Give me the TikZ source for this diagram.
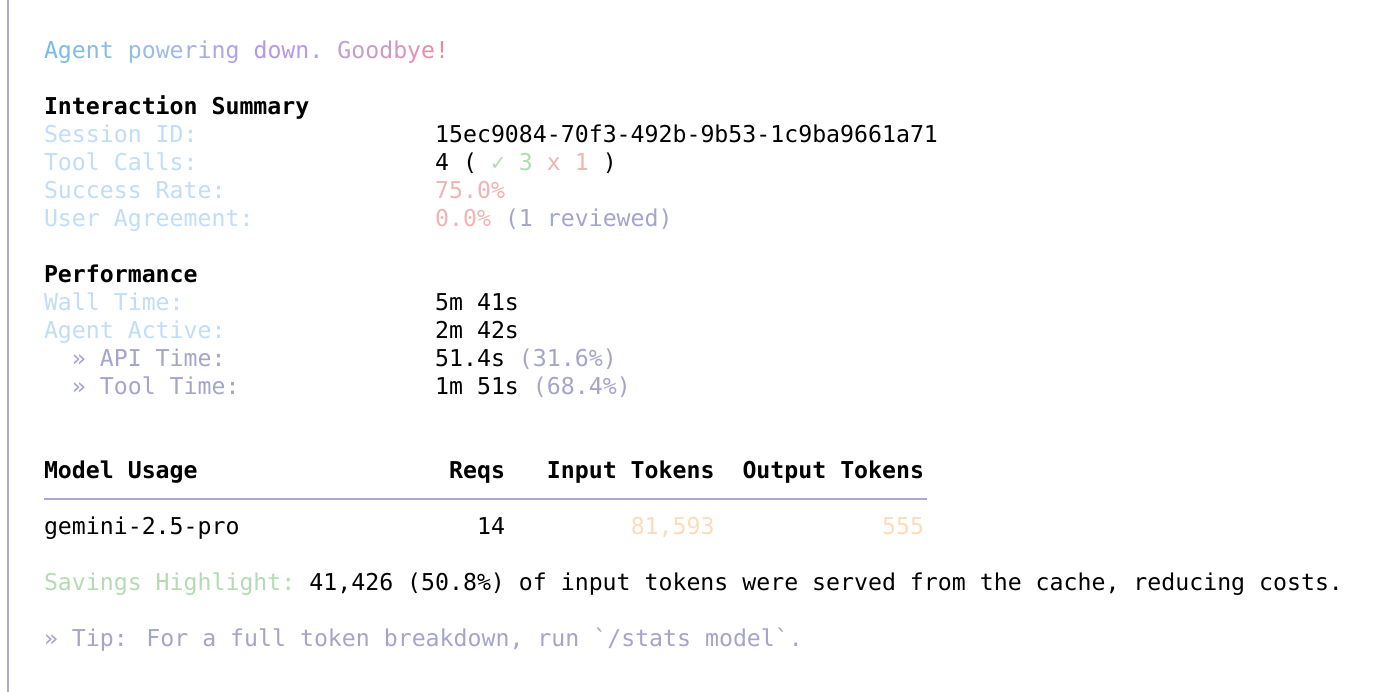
\documentclass[tikz,border=0pt]{standalone}
\usepackage{fontspec}
\newfontfamily\mono{DejaVu Sans Mono}
\definecolor{lbl}{HTML}{C0DDF9}
\definecolor{okgreen}{HTML}{B3DCB3}
\definecolor{errpink}{HTML}{F2B3B3}
\definecolor{dimgray}{HTML}{A5A5CC}
\definecolor{peach}{HTML}{FCDDBA}
\definecolor{bordercol}{HTML}{ABA7D3}
\definecolor{s0}{HTML}{78BCE8}
\definecolor{s1}{HTML}{9EBCE6}
\definecolor{s2}{HTML}{B497EC}
\definecolor{s3}{HTML}{B99AE6}
\definecolor{s4}{HTML}{C2A0CA}
\definecolor{s5}{HTML}{DE92BC}
\definecolor{s6}{HTML}{E98C9A}
\tikzset{txt/.style={anchor=base west,inner sep=0pt,outer sep=0pt,font=\mono\fontsize{23.2pt}{28pt}\selectfont}}
\newcommand\tx[5]{\node[txt,text=#4] (#1) at ({44+13.97*#2},{58.5+28*#3}) {#5};}
\begin{document}
\begin{tikzpicture}[x=1pt,y=-1pt]
\useasboundingbox[fill=white] (0,0) rectangle (1388,692);
\coordinate (bt) at (8,0);
\coordinate (bb) at (8,692);
\draw[bordercol,line width=2pt] (bt) -- (bb);
% gradient title
\foreach \gi/\gch [count=\k] in {0/A,1/g,2/e,3/n,4/t,6/p,7/o,8/w,9/e,10/r,11/i,12/n,13/g,15/d,16/o,17/w,18/n,19/.,21/G,22/o,23/o,24/d,25/b,26/y,27/e,28/!}{
  \ifnum\gi<9
    \pgfmathtruncatemacro\pp{100*\gi/8}\colorlet{gc}{s1!\pp!s0}
  \else\ifnum\gi<16
    \pgfmathtruncatemacro\pp{100*(\gi-8)/7}\colorlet{gc}{s2!\pp!s1}
  \else\ifnum\gi<20
    \pgfmathtruncatemacro\pp{100*(\gi-15)/4}\colorlet{gc}{s3!\pp!s2}
  \else\ifnum\gi<23
    \pgfmathtruncatemacro\pp{100*(\gi-19)/3}\colorlet{gc}{s4!\pp!s3}
  \else\ifnum\gi<27
    \pgfmathtruncatemacro\pp{100*(\gi-22)/4}\colorlet{gc}{s5!\pp!s4}
  \else
    \pgfmathtruncatemacro\pp{100*(\gi-26)/2}\colorlet{gc}{s6!\pp!s5}
  \fi\fi\fi\fi\fi
  \node[txt,text=gc] (g\k) at ({44+13.97*\gi},58.5) {\gch};
}
% Interaction summary
\tx{hIS}{0}{2}{black}{\bfseries Interaction Summary}
\tx{lSID}{0}{3}{lbl}{Session ID:}
\tx{vSID}{28}{3}{black}{15ec9084-70f3-492b-9b53-1c9ba9661a71}
\tx{lTC}{0}{4}{lbl}{Tool Calls:}
\tx{vTCa}{28}{4}{black}{4 (}
\tx{vTCb}{32}{4}{okgreen}{✓ 3}
\tx{vTCc}{36}{4}{errpink}{x 1}
\tx{vTCd}{40}{4}{black}{)}
\tx{lSR}{0}{5}{lbl}{Success Rate:}
\tx{vSR}{28}{5}{errpink}{75.0\%}
\tx{lUA}{0}{6}{lbl}{User Agreement:}
\tx{vUA}{28}{6}{errpink}{0.0\%}
\tx{vUAb}{33}{6}{dimgray}{(1 reviewed)}
% Performance
\tx{hPF}{0}{8}{black}{\bfseries Performance}
\tx{lWT}{0}{9}{lbl}{Wall Time:}
\tx{vWT}{28}{9}{black}{5m 41s}
\tx{lAA}{0}{10}{lbl}{Agent Active:}
\tx{vAA}{28}{10}{black}{2m 42s}
\tx{lAPI}{2}{11}{dimgray}{» API Time:}
\tx{vAPI}{28}{11}{black}{51.4s}
\tx{vAPIb}{34}{11}{dimgray}{(31.6\%)}
\tx{lTT}{2}{12}{dimgray}{» Tool Time:}
\tx{vTT}{28}{12}{black}{1m 51s}
\tx{vTTb}{35}{12}{dimgray}{(68.4\%)}
% Model usage
\tx{hMU}{0}{15}{black}{\bfseries Model Usage}
\tx{hRQ}{29}{15}{black}{\bfseries Reqs}
\tx{hIT}{36}{15}{black}{\bfseries Input Tokens}
\tx{hOT}{50}{15}{black}{\bfseries Output Tokens}
\coordinate (rl) at (44,499);
\coordinate (rr) at (927,499);
\draw[bordercol,line width=2pt] (rl) -- (rr);
\tx{mName}{0}{17}{black}{gemini-2.5-pro}
\tx{mReq}{31}{17}{black}{14}
\tx{mIn}{42}{17}{peach}{81,593}
\tx{mOut}{60}{17}{peach}{555}
\tx{sHL}{0}{19}{okgreen}{Savings Highlight:}
\tx{sTX}{19}{19}{black}{41,426 (50.8\%) of input tokens were served from the cache, reducing costs.}
\tx{tip}{0}{21}{dimgray}{» Tip: For a full token breakdown, run `/stats model`.}
\end{tikzpicture}
\end{document}
